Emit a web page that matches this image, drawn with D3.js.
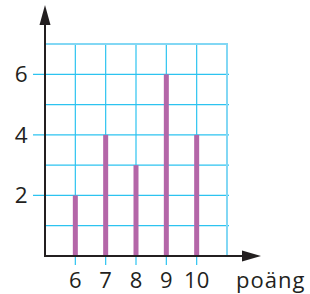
<!DOCTYPE html>
<html>
<head>
<meta charset="utf-8">
<script src="https://cdn.jsdelivr.net/npm/d3@7"></script>
<style>
    body { margin: 0; background: #fff; }
    svg text { font-family: "Open Sans", "Noto Sans", sans-serif; fill: #231f20; }
</style>
</head>
<body>
<div id="chart"></div>
<script>
// Data
const points = [6, 7, 8, 9, 10];
const counts = [2, 4, 3, 6, 4];
const yTickLabels = [2, 4, 6];
const xLabel = "poäng";

const width = 310;
const height = 294;

const svg = d3.select("#chart")
    .append("svg")
    .attr("width", width)
    .attr("height", height);

// Scales
const x = d3.scaleLinear().domain([5, 11]).range([45, 227]);
const y = d3.scaleLinear().domain([0, 7]).range([256, 44]);

const gridColor = "#2cc3f0";
const borderColor = "#82d7f4";

// Horizontal grid lines
const grid = svg.append("g");
grid.selectAll(".h-line")
    .data(d3.range(1, 7))
    .enter()
    .append("line")
    .attr("x1", d => yTickLabels.includes(d) ? 33 : x(5))
    .attr("x2", x(11) + 2)
    .attr("y1", d => y(d))
    .attr("y2", d => y(d))
    .attr("stroke", gridColor)
    .attr("stroke-width", 1.2);

// Vertical grid lines (with ticks below the axis)
grid.selectAll(".v-line")
    .data(points)
    .enter()
    .append("line")
    .attr("x1", d => x(d))
    .attr("x2", d => x(d))
    .attr("y1", y(7))
    .attr("y2", y(0) + 9)
    .attr("stroke", gridColor)
    .attr("stroke-width", 1.2);

// Border (top and right)
grid.append("path")
    .attr("d", `M${x(5)},${y(7)} H${x(11)} V${y(0)}`)
    .attr("fill", "none")
    .attr("stroke", borderColor)
    .attr("stroke-width", 2);

// Bars
svg.selectAll(".bar")
    .data(points)
    .enter()
    .append("rect")
    .attr("x", d => x(d) - 2.5)
    .attr("width", 5)
    .attr("y", (d, i) => y(counts[i]))
    .attr("height", (d, i) => y(0) - y(counts[i]))
    .attr("fill", "#b466a8");

// Axes
const axisColor = "#231f20";
svg.append("line")
    .attr("x1", x(5)).attr("x2", x(5))
    .attr("y1", y(0) + 1).attr("y2", 22)
    .attr("stroke", axisColor)
    .attr("stroke-width", 2);
svg.append("path")
    .attr("d", `M${x(5)},5 L${x(5) + 5.5},25 L${x(5) - 5.5},25 Z`)
    .attr("fill", axisColor);

svg.append("line")
    .attr("x1", x(5) - 1).attr("x2", 246)
    .attr("y1", y(0)).attr("y2", y(0))
    .attr("stroke", axisColor)
    .attr("stroke-width", 2);
svg.append("path")
    .attr("d", `M261,${y(0)} L242,${y(0) - 5.5} L242,${y(0) + 5.5} Z`)
    .attr("fill", axisColor);

// Tick labels
svg.selectAll(".y-label")
    .data(yTickLabels)
    .enter()
    .append("text")
    .attr("x", 27.5)
    .attr("y", d => y(d) + 8)
    .attr("text-anchor", "end")
    .attr("font-size", 22.5)
    .text(d => d);

svg.selectAll(".x-label")
    .data(points)
    .enter()
    .append("text")
    .attr("x", d => x(d))
    .attr("y", 287.5)
    .attr("text-anchor", "middle")
    .attr("font-size", 22)
    .text(d => d);

svg.append("text")
    .attr("x", 236)
    .attr("y", 287.5)
    .attr("font-size", 22)
    .attr("letter-spacing", 1)
    .text(xLabel);
</script>
</body>
</html>
